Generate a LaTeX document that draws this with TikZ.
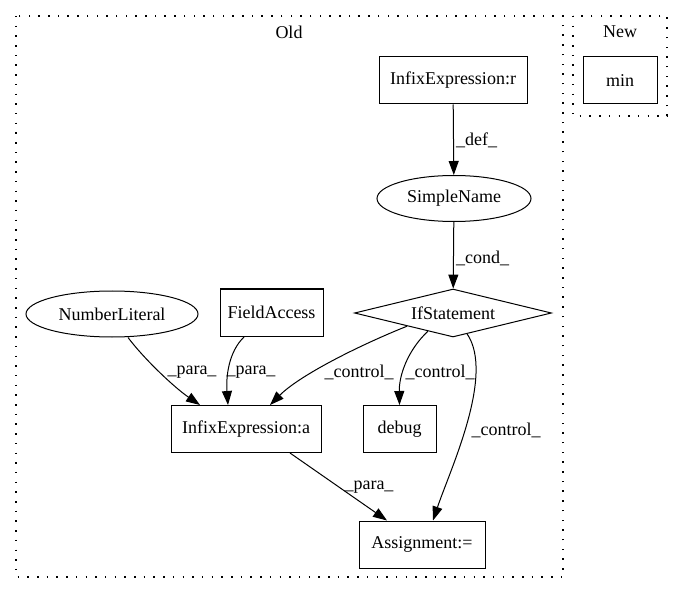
\documentclass[tikz,border=0pt]{standalone}
\usepackage{fontspec}
\setmainfont{Liberation Serif}
\usetikzlibrary{arrows.meta,shapes.geometric}
\begin{document}
\begin{tikzpicture}[x=1pt,y=-1pt,
  every node/.style={font=\fontsize{18}{20}\selectfont, inner sep=0pt},
  boxnode/.style={draw, line width=1pt, rectangle, minimum height=47pt},
  ellnode/.style={draw, line width=1pt, ellipse, minimum height=46pt},
  dianode/.style={draw, line width=1pt, diamond, aspect=4},
  cluster/.style={draw, line width=1.2pt, dash pattern=on 1.5pt off 8.2pt},
  edge/.style={draw, line width=1pt, -{Triangle[length=14pt,width=10pt]}},
  lbl/.style={font=\fontsize{18}{20}\selectfont}
]
\useasboundingbox (0,0) rectangle (683,596);
% clusters
\draw[cluster] (16,16) rectangle (563,577);
\draw[cluster] (573,16) rectangle (667,116);
\node (oldlbl) at (289,32) {Old};
\node (newlbl) at (620,32) {New};
% nodes
\node[boxnode, minimum width=148pt] (r) at (453,80.5) {InfixExpression:r};
\node[boxnode, minimum width=74pt] (mn) at (620,80.5) {min};
\node[ellnode, minimum width=154pt] (sn) at (454,198.5) {SimpleName};
\node[dianode, minimum width=197pt, minimum height=48pt] (if) at (453,313) {IfStatement};
\node[ellnode, minimum width=172pt] (nl) at (112,314) {NumberLiteral};
\node[boxnode, minimum width=103pt] (fa) at (271.5,312.5) {FieldAccess};
\node[boxnode, minimum width=150pt] (ia) at (246,429) {InfixExpression:a};
\node[boxnode, minimum width=73pt] (db) at (399.5,429) {debug};
\node[boxnode, minimum width=126pt] (as) at (422,544.5) {Assignment:=};
% edges
\draw[edge] (r) -- (sn);
\draw[edge] (sn) -- (if);
\draw[edge] ([xshift=16pt]nl.south) .. controls (145,360) and (175,388) .. ([xshift=-46pt]ia.north);
\draw[edge] ([xshift=-27pt]fa.south) .. controls (228,352) and (226,378) .. ([xshift=-18pt]ia.north);
\draw[edge] (if.-164) .. controls (360,345) and (300,375) .. ([xshift=24pt]ia.north);
\draw[edge] (if.-144) .. controls (408,350) and (399,375) .. (db.north);
\draw[edge] (if.-56) .. controls (495,375) and (450,470) .. ([xshift=11pt]as.north);
\draw[edge] ([xshift=44pt]ia.south) -- ([xshift=-35pt]as.north);
% labels
\node[lbl, anchor=west] (l1) at (456,140) {\_def\_};
\node[lbl, anchor=west] (l2) at (456,258) {\_cond\_};
\node[lbl] (l3) at (192,372) {\_para\_};
\node[lbl] (l4) at (251,372) {\_para\_};
\node[lbl] (l5) at (359,372) {\_control\_};
\node[lbl] (l6) at (440,372) {\_control\_};
\node[lbl] (l7) at (506,430) {\_control\_};
\node[lbl] (l8) at (369,487) {\_para\_};
\end{tikzpicture}
\end{document}
